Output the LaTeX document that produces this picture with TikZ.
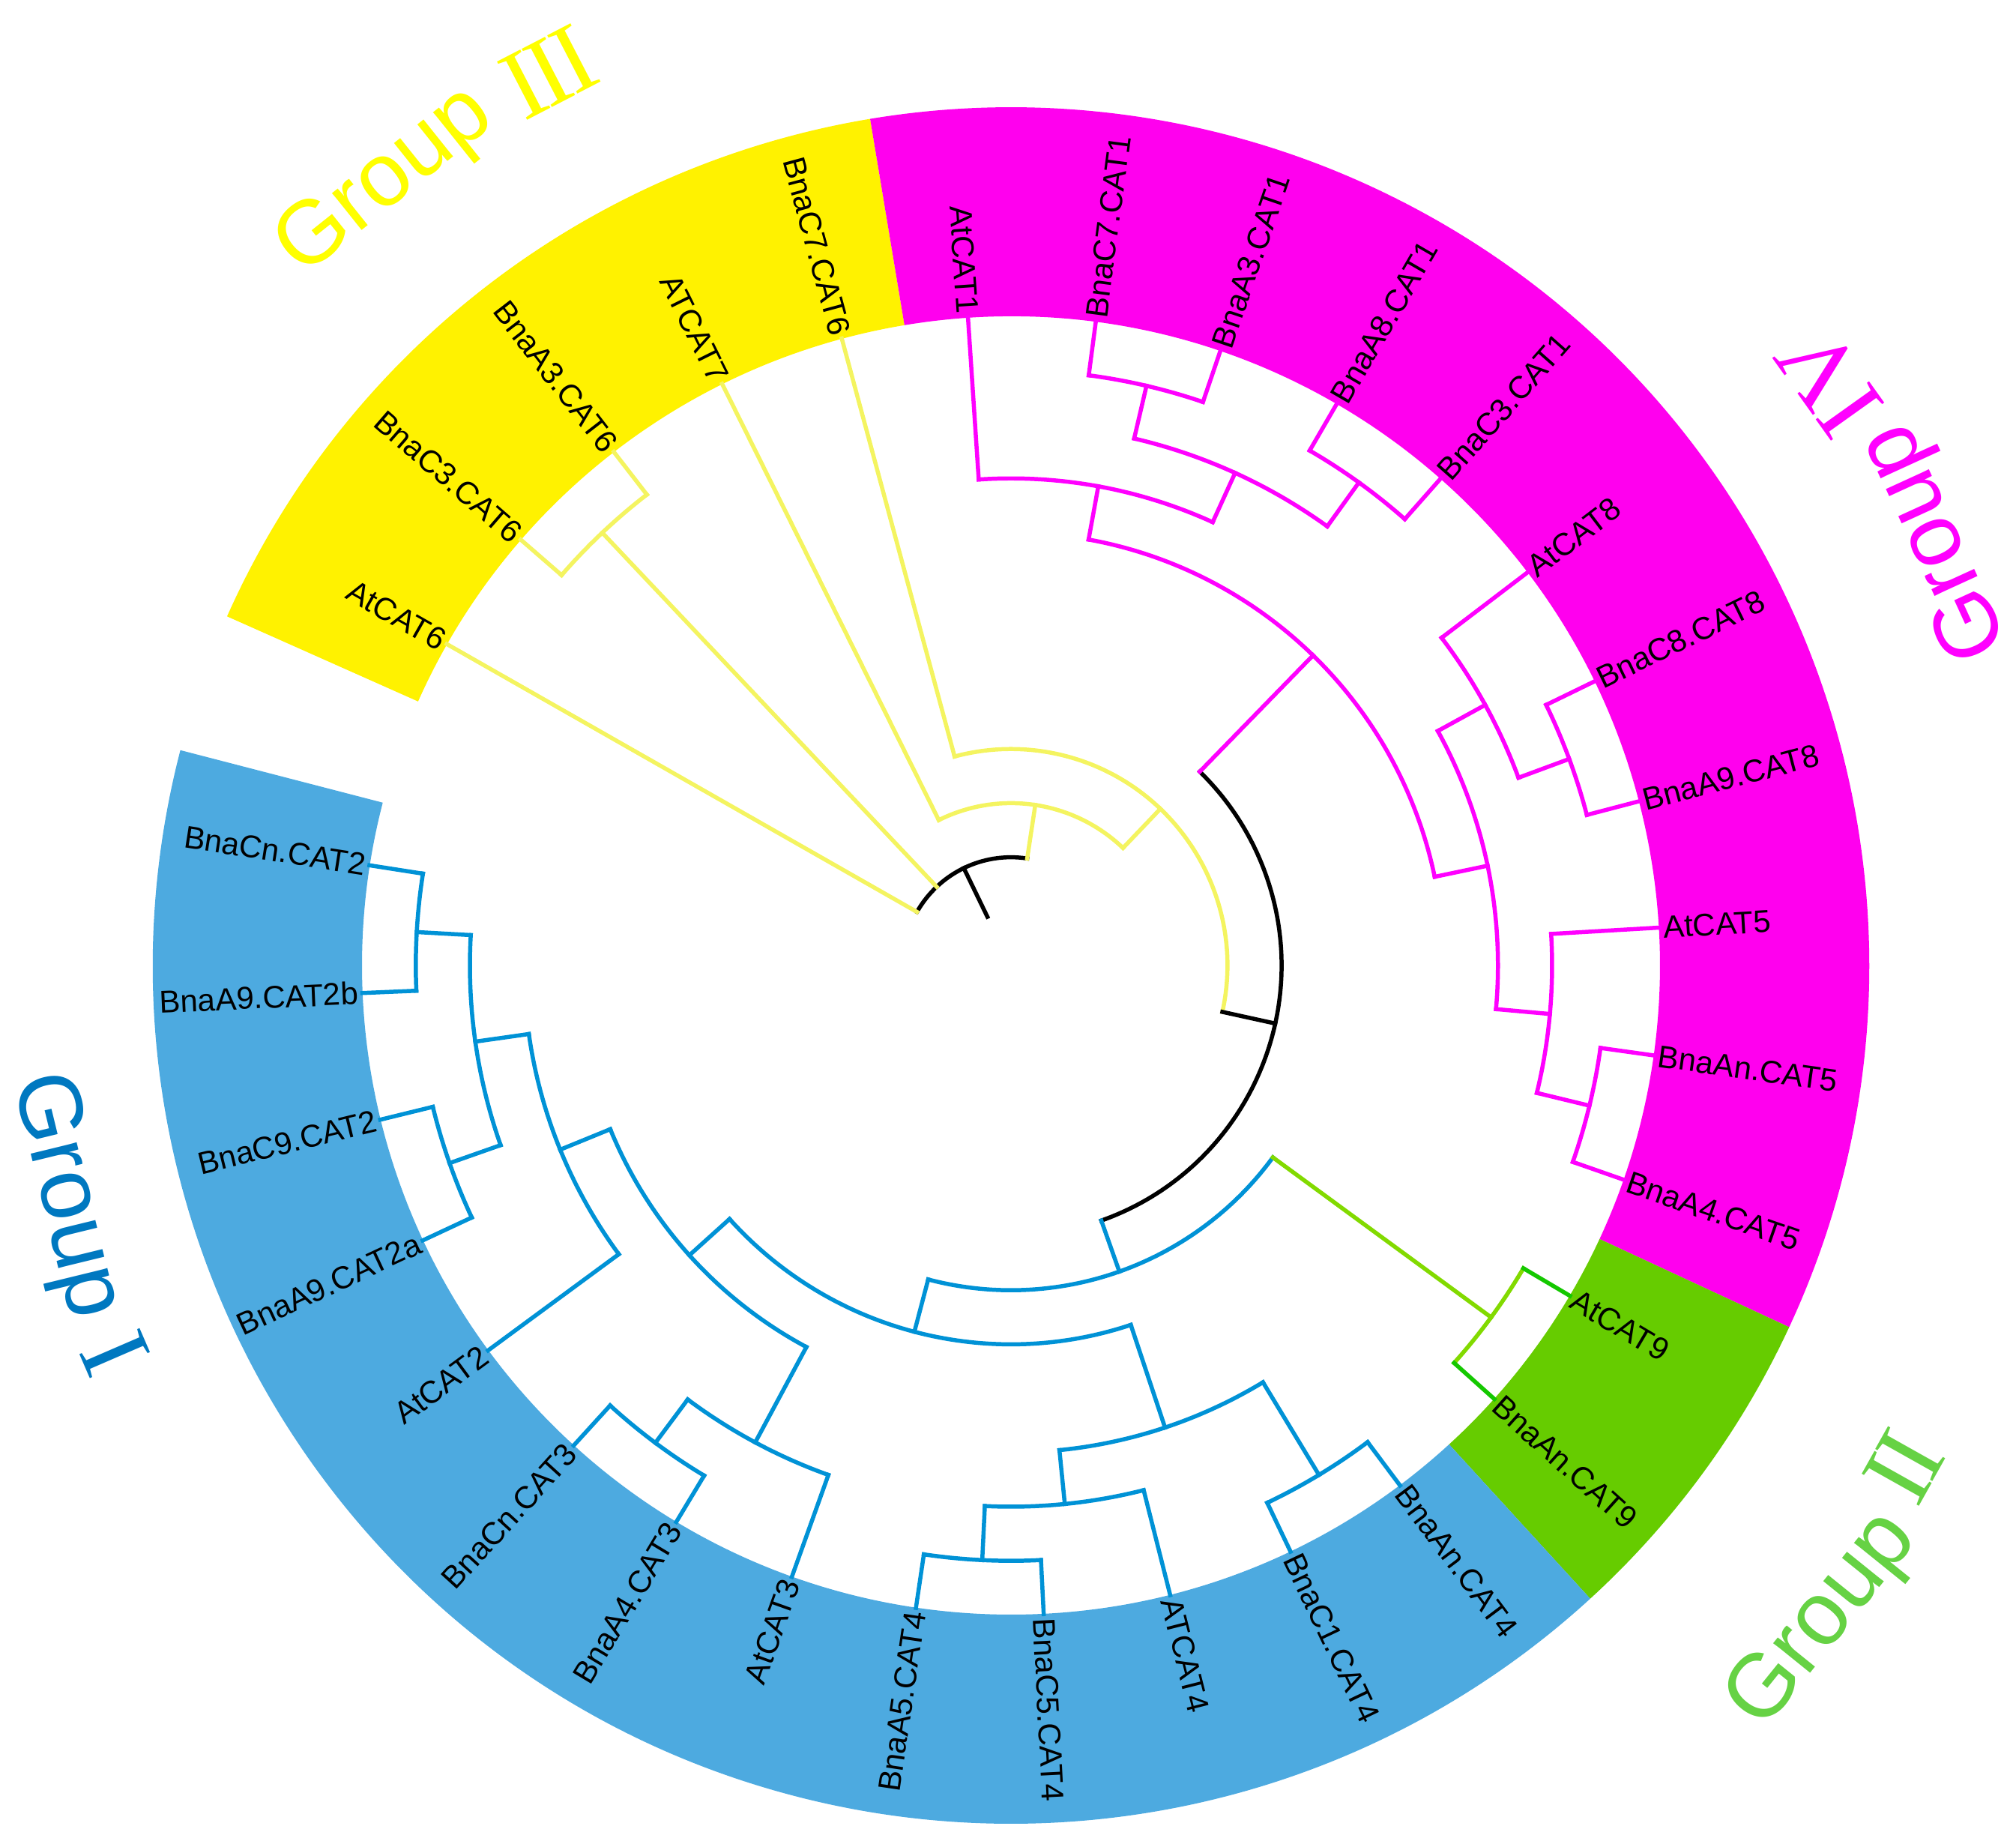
\documentclass[tikz,border=0pt]{standalone}
\usepackage{fontspec}
\setmainfont{Liberation Sans}
\newfontfamily\numfont{Liberation Serif}
\definecolor{bandY}{RGB}{255,242,0}
\definecolor{bandM}{RGB}{255,0,238}
\definecolor{bandG}{RGB}{102,204,0}
\definecolor{bandB}{RGB}{77,170,224}
\definecolor{lnY}{RGB}{244,244,96}
\definecolor{lnM}{RGB}{255,0,255}
\definecolor{lnB}{RGB}{0,146,214}
\definecolor{lnL}{RGB}{130,218,0}
\definecolor{lnG}{RGB}{20,200,0}
\definecolor{txI}{RGB}{0,120,192}
\definecolor{txII}{RGB}{102,210,68}
\definecolor{txIII}{RGB}{255,255,0}
\definecolor{txIV}{RGB}{255,0,255}
% tree node: name, angle, level, parent level, style
\newcommand\tn[5]{%
  \coordinate (#1) at (#2:{#3*0.722});
  \coordinate (#1-f) at (#2:{#4*0.722});
  \draw[#5] (#1-f) -- (#1);}
% arc of a node: style, start angle, end angle, level
\newcommand\tarc[4]{%
  \draw[#1] (#2:{#4*0.722}) arc[start angle=#2, end angle=#3, radius={#4*0.722}];}
% coloured band sector
\newcommand\band[3]{%
  \fill[#1] (#2:8.66) arc[start angle=#2, end angle=#3, radius=8.66]
    -- (#3:11.45) arc[start angle=#3, end angle=#2, radius=11.45] -- cycle;}
\newcommand\nk{\kern-0.05em}
\begin{document}
\begin{tikzpicture}[
  br/.style={line width=1.56pt, line cap=rect},
  tk/.style={br, draw=black},
  ty/.style={br, draw=lnY},
  tm/.style={br, draw=lnM},
  tb/.style={br, draw=lnB},
  tl/.style={br, draw=lnL},
  tg/.style={br, draw=lnG},
  leaflab/.style={inner sep=0.6pt, text=black, font=\fontsize{11.95}{14}\selectfont},
  grp/.style={inner sep=0pt, anchor=base, font=\fontsize{34}{40}\selectfont},
  grpn/.style={inner sep=0pt, anchor=base, font=\numfont\fontsize{38}{44}\selectfont},
]
\useasboundingbox (-13.49,-11.67) rectangle (13.41,12.88);
% bands
\band{bandY}{156.0}{99.45}
\band{bandM}{99.45}{-24.92}
\band{bandG}{-24.92}{-47.54}
\band{bandB}{-47.54}{-194.53}
% internal nodes
\coordinate (root) at (115.86:0.722);
\tn{A}{115.86}{2}{1}{tk}
\tarc{tk}{81.39}{150.34}{2}
\tn{Q}{133.37}{11}{2}{ty}
\tarc{ty}{127.72}{139.03}{11}
\tn{B}{81.39}{3}{2}{ty}
\tarc{ty}{46.36}{116.41}{3}
\tn{C}{46.36}{4}{3}{ty}
\tarc{ty}{-12.38}{105.11}{4}
\tn{D}{-12.38}{5}{4}{tk}
\tarc{tk}{-70.50}{45.75}{5}
% group IV
\tn{G}{45.75}{8}{5}{tm}
\tarc{tm}{11.82}{79.67}{8}
\tn{F}{79.67}{9}{8}{tm}
\tarc{tm}{65.53}{93.80}{9}
\tn{I}{65.53}{10}{9}{tm}
\tarc{tm}{54.23}{76.84}{10}
\tn{J}{76.84}{11}{10}{tm}
\tarc{tm}{71.19}{82.49}{11}
\tn{K}{54.23}{11}{10}{tm}
\tarc{tm}{48.57}{59.88}{11}
\tn{H}{11.82}{9}{8}{tm}
\tarc{tm}{-5.14}{28.78}{9}
\tn{L}{28.78}{10}{9}{tm}
\tarc{tm}{20.30}{37.27}{10}
\tn{M}{20.30}{11}{10}{tm}
\tarc{tm}{14.65}{25.96}{11}
\tn{O}{-5.14}{10}{9}{tm}
\tarc{tm}{-13.62}{3.34}{10}
\tn{P}{-13.62}{11}{10}{tm}
\tarc{tm}{-19.27}{-7.96}{11}
% groups I and II
\tn{E}{-70.50}{6}{5}{tb}
\tarc{tb}{-104.78}{-36.23}{6}
\tn{GR}{-36.23}{11}{6}{tl}
\tarc{tl}{-41.88}{-30.58}{11}
\tn{R1}{-104.78}{7}{6}{tb}
\tarc{tb}{-137.99}{-71.56}{7}
\tn{R2}{-71.56}{9}{7}{tb}
\tarc{tb}{-84.29}{-58.84}{9}
\tn{R4}{-58.84}{11}{9}{tb}
\tarc{tb}{-64.50}{-53.19}{11}
\tn{R3}{-84.29}{10}{9}{tb}
\tarc{tb}{-92.77}{-75.81}{10}
\tn{R5}{-92.77}{11}{10}{tb}
\tarc{tb}{-98.42}{-87.11}{11}
\tn{R7}{-137.99}{8}{7}{tb}
\tarc{tb}{-157.78}{-118.21}{8}
\tn{R6}{-118.21}{10}{8}{tb}
\tarc{tb}{-126.69}{-109.73}{10}
\tn{TC}{-126.69}{11}{10}{tb}
\tarc{tb}{-132.34}{-121.03}{11}
\tn{S3}{-157.78}{9}{8}{tb}
\tarc{tb}{-171.91}{-143.65}{9}
\tn{S2}{-171.91}{10}{9}{tb}
\tarc{tb}{-183.22}{-160.61}{10}
\tn{S4}{-160.61}{11}{10}{tb}
\tarc{tb}{-166.26}{-154.95}{11}
\tn{S1}{-183.22}{11}{10}{tb}
\tarc{tb}{-188.88}{-177.57}{11}
% leaves and labels
\foreach \i/\lab/\pl/\col in {
  -5/AtCAT6/2/ty, -4/BnaC3.CAT6/11/ty, -3/BnaA3.CAT6/11/ty, -2/ATCAT7/3/ty,
  -1/BnaC7.CAT6/4/ty, 0/AtCAT1/9/tm, 1/BnaC7.CAT1/11/tm, 2/BnaA3.CAT1/11/tm,
  3/BnaA8.CAT1/11/tm, 4/BnaC3.CAT1/11/tm, 5/AtCAT8/10/tm, 6/BnaC8.CAT8/11/tm,
  7/BnaA9.CAT8/11/tm, 8/AtCAT5/10/tm, 9/BnaAn.CAT5/11/tm, 10/BnaA4.CAT5/11/tm,
  11/AtCAT9/11/tg, 12/BnaAn.CAT9/11/tg, 13/BnaAn.CAT4/11/tb, 14/BnaC1.CAT4/11/tb,
  15/ATCAT4/10/tb, 16/BnaC5.CAT4/11/tb, 17/BnaA5.CAT4/11/tb, 18/AtCAT3/10/tb,
  19/BnaA4.CAT3/11/tb, 20/BnaCn.CAT3/11/tb, 21/AtCAT2/9/tb, 22/BnaA9.CAT2a/11/tb,
  23/BnaC9.CAT2/11/tb, 24/BnaA9.CAT2b/11/tb, 25/BnaCn.CAT2/11/tb}{
  \pgfmathsetmacro\ang{93.8-11.307*\i}
  \coordinate (lf\i) at (\ang:8.664);
  \coordinate (lf\i-f) at (\ang:{\pl*0.722});
  \draw[\col] (lf\i-f) -- (lf\i);
  \pgfmathtruncatemacro\side{cos(\ang)>=0}
  \ifnum\side=1
    \node[leaflab, anchor=west, rotate=\ang] (lb\i) at (\ang:8.69) {\lab};
  \else
    \pgfmathsetmacro\rot{\ang+180}
    \node[leaflab, anchor=east, rotate=\rot] (lb\i) at (\ang:8.69) {\lab};
  \fi
}
% group labels
\node[grp, text=txI, rotate=283.7] (g1w) at (193.7:13.30) {Group};
\node[grpn, text=txI, rotate=293.4] (g1n) at (203.4:13.46) {I};
\node[grp, text=txII, rotate=51.1] (g2w) at (-38.9:14.23) {Group};
\node[grpn, text=txII, rotate=60.7] (g2n) at (-29.3:14.10) {I\nk I};
\node[grp, text=txIII, rotate=38.6] (g3w) at (128.6:13.07) {Group};
\node[grpn, text=txIII, rotate=27.35] (g3n) at (117.35:12.98) {I\nk I\nk I};
\node[grp, text=txIV, rotate=114.6] (g4w) at (24.6:13.89) {Group};
\node[grpn, text=txIV, rotate=125.5] (g4n) at (35.5:13.85) {IV};
\end{tikzpicture}
\end{document}
